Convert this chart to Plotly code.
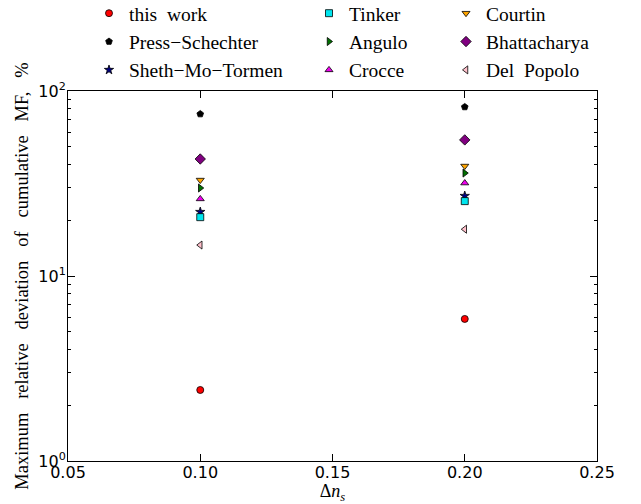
import plotly.graph_objects as go

dns = [0.10, 0.20]
series_names = ["this  work", "Press\u2212Schechter", "Sheth\u2212Mo\u2212Tormen",
                "Tinker", "Angulo", "Crocce",
                "Courtin", "Bhattacharya", "Del  Popolo"]
this_work = [2.42, 5.86]
press_schechter = [75.1, 82.0]
sheth_mo_tormen = [22.2, 27.1]
tinker = [20.8, 25.4]
angulo = [29.9, 36.0]
crocce = [26.1, 31.8]
courtin = [33.0, 39.3]
bhattacharya = [42.9, 54.4]
del_popolo = [14.7, 17.9]
series_values = [this_work, press_schechter, sheth_mo_tormen, tinker, angulo,
                 crocce, courtin, bhattacharya, del_popolo]

styles = [
    ("circle", "#ff0000", 7),
    ("pentagon", "#000000", 7),
    ("star", "#000080", 7),
    ("square", "#00e5ee", 7),
    ("triangle-right", "#007000", 7),
    ("triangle-up", "#ee00ee", 7),
    ("triangle-down", "#ffa500", 7),
    ("diamond", "#800080", 8),
    ("triangle-left", "#ffc0cb", 7),
]
legend_ids = ["legend", "legend", "legend", "legend2", "legend2", "legend2",
              "legend3", "legend3", "legend3"]

fig = go.Figure()
for i, (n, v, (sym, col, sz), lg) in enumerate(zip(series_names, series_values, styles, legend_ids)):
    fig.add_trace(go.Scatter(
        x=dns, y=v, mode="markers", name=n.replace("  ", "\u00a0\u00a0"),
        legend=lg,
        marker=dict(symbol=sym, color=col, size=sz, line=dict(color="black", width=0.8)),
    ))

serif = "Liberation Serif, DejaVu Serif, serif"
sans = "DejaVu Sans, sans-serif"
L, R, T, B = 68, 44, 91, 43
W, H = 641, 504
pw = W - L - R
ph = H - T - B


def leg(px, top_px):
    return dict(orientation="v", x=(px - L) / pw, xanchor="left",
                y=1 + (T - top_px) / ph, yanchor="top", yref="paper",
                font=dict(family=serif, size=19.5, color="black"),
                bgcolor="rgba(0,0,0,0)", tracegroupgap=0, itemwidth=30)


fig.update_layout(
    width=W, height=H,
    paper_bgcolor="white", plot_bgcolor="white",
    margin=dict(l=L, r=R, t=T, b=B, autoexpand=False),
    showlegend=True,
    legend=leg(89, -6), legend2=leg(309, -6), legend3=leg(446, -6),
    font=dict(family=sans, size=16, color="black"),
)
fig.update_xaxes(
    range=[0.05, 0.25], tickvals=[0.05, 0.10, 0.15, 0.20, 0.25],
    ticktext=["0.05", "0.10", "0.15", "0.20", "0.25"],
    ticks="inside", ticklen=7, tickwidth=1, tickcolor="black",
    showline=True, linecolor="black", linewidth=1, mirror="ticks",
    showgrid=False, zeroline=False, ticklabelstandoff=-3,
    tickfont=dict(family=sans, size=16),
    title=dict(text="\u0394<i>n</i><sub><i>s</i></sub>", font=dict(family=serif, size=18), standoff=0),
)
sp = "\u00a0\u00a0\u00a0"
fig.update_yaxes(
    type="log", range=[0, 2], tickvals=[1, 10, 100],
    ticktext=["10<sup>0</sup>", "10<sup>1</sup>", "10<sup>2</sup>"],
    ticks="inside", ticklen=7, tickwidth=1, tickcolor="black",
    minor=dict(ticks="inside", ticklen=3, tickcolor="black",
               tickvals=[2, 3, 4, 5, 6, 7, 8, 9, 20, 30, 40, 50, 60, 70, 80, 90]),
    showline=True, linecolor="black", linewidth=1, mirror="ticks",
    showgrid=False, zeroline=False, ticklabelstandoff=-2,
    tickfont=dict(family=sans, size=16),
    title=dict(text=sp.join(["Maximum", "relative", "deviation", "of", "cumulative", "MF,", "%"]),
               font=dict(family=serif, size=18.5), standoff=4),
)
fig.write_html("out.html", config={"displayModeBar": False},
               post_script="document.body.style.margin='0';")
